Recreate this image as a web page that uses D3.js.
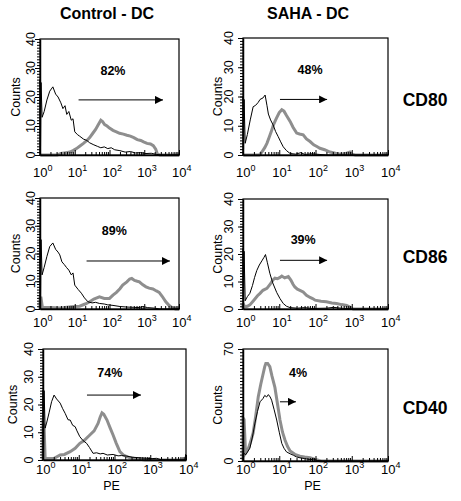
<!DOCTYPE html>
<html>
<head>
<meta charset="utf-8">
<script src="https://cdn.jsdelivr.net/npm/d3@7"></script>
<style>
  html, body { margin: 0; padding: 0; background: #fff; }
  svg { display: block; font-family: "Liberation Sans", Arial, sans-serif; }
</style>
</head>
<body>
<svg id="chart" width="461" height="501"></svg>
<script>
// ---------- DATA ----------
const columnTitles = ["Control - DC", "SAHA - DC"];
const rowMarkers = ["CD80", "CD86", "CD40"];
const percentLabels = ["82%", "48%", "89%", "39%", "74%", "4%"];
const yMaxValues = [40, 40, 40, 40, 40, 70];
const yTickLabelsStd = [0, 10, 20, 30, 40];
const yTickLabelsCD40Saha = [0, 70];
const xTickExponents = [0, 1, 2, 3, 4];
const xAxisTitle = "PE";
const yAxisTitle = "Counts";

// histogram points: [log10(PE), counts]
// black = isotype control, gray = marker stain
const ctrlCD80Iso = [[0,0],[0,26],[0.015,3],[0.03,25],[0.06,13],[0.12,15],[0.2,19],[0.28,22],[0.37,23.5],[0.45,21],[0.52,20],[0.6,18],[0.66,16],[0.72,17],[0.77,14],[0.83,15],[0.9,12],[0.95,12.5],[1.0,8],[1.08,7],[1.14,6.5],[1.25,5.5],[1.35,5],[1.43,4.2],[1.55,3.5],[1.65,3],[1.75,2.5],[1.85,2.8],[1.95,2.2],[2.05,2.5],[2.15,1.8],[2.3,1.5],[2.45,1],[2.6,1.2],[2.75,0.7],[2.9,0.8],[3.05,0.5],[3.2,0.6],[3.35,0.2],[3.5,0],[4,0]];
const ctrlCD80 = [[0,0],[0.5,0],[0.6,0.5],[0.75,0.8],[0.86,1],[0.95,1.5],[1.05,2.2],[1.14,3],[1.25,4],[1.35,5],[1.43,6],[1.52,7.5],[1.6,8.8],[1.68,10.5],[1.75,12],[1.8,11.5],[1.86,10.5],[1.93,10],[2.0,9.3],[2.1,8.5],[2.2,8],[2.29,7.5],[2.4,7.2],[2.5,6.8],[2.6,6.5],[2.7,6],[2.8,5.3],[2.9,5],[2.98,4.5],[3.08,4],[3.18,3.8],[3.26,3.2],[3.33,2],[3.38,0.3],[3.45,0],[4,0]];
const sahaCD80Iso = [[0,0],[0,20],[0.015,2],[0.03,19],[0.06,4],[0.12,7],[0.2,12],[0.28,16.5],[0.35,17],[0.42,18],[0.47,19],[0.55,19.5],[0.61,20.5],[0.66,17],[0.7,14],[0.76,12],[0.83,10.3],[0.9,8],[0.97,6.3],[1.04,4.5],[1.11,2.8],[1.2,1.5],[1.3,0.5],[1.45,0.3],[1.6,0.8],[1.7,0.2],[1.9,0.4],[2.1,0.2],[2.3,0],[4,0]];
const sahaCD80 = [[0,0],[0.45,0],[0.52,1],[0.6,2.5],[0.66,4],[0.72,6],[0.78,8],[0.84,10.3],[0.92,12.5],[1.0,14.5],[1.07,15.5],[1.13,15],[1.2,13.5],[1.3,11.5],[1.38,9.5],[1.48,7.5],[1.56,7.2],[1.66,6.9],[1.75,5.5],[1.85,4.6],[1.95,3.5],[2.05,2.8],[2.12,2.3],[2.25,1.8],[2.4,1],[2.55,0.6],[2.68,0.3],[2.8,0.4],[2.9,0.8],[2.95,1],[3.0,0.3],[3.1,0],[4,0]];
const ctrlCD86Iso = [[0,0],[0,25.5],[0.015,3],[0.03,25],[0.06,12.3],[0.12,15],[0.2,19],[0.28,22.5],[0.37,23.8],[0.45,21.5],[0.52,20.5],[0.57,19.5],[0.63,17],[0.7,16],[0.76,15],[0.83,14],[0.9,12.3],[0.95,13],[1.0,8.6],[1.1,7],[1.19,5.7],[1.28,4],[1.38,2.6],[1.5,2.2],[1.6,2.4],[1.71,2],[1.85,1.8],[1.95,1.5],[2.1,1.3],[2.3,0.9],[2.5,0.7],[2.7,0.6],[2.86,0.5],[2.95,0.9],[3.1,0.5],[3.3,0.3],[3.45,0],[4,0]];
const ctrlCD86 = [[0,0],[0,4],[0.03,4],[0.07,0.5],[0.3,0.5],[0.6,0.4],[0.9,0.8],[1.14,1],[1.3,1.8],[1.43,2.6],[1.55,3.6],[1.71,4.4],[1.85,3.8],[2.0,3.8],[2.1,5],[2.2,6],[2.3,7.3],[2.38,8.6],[2.5,9.8],[2.58,10.8],[2.64,11],[2.72,10.3],[2.8,10],[2.86,9.8],[2.95,8.8],[3.05,8],[3.14,7.5],[3.25,7.2],[3.35,6.5],[3.43,6],[3.52,4.5],[3.62,2.6],[3.7,1.5],[3.8,0.5],[3.9,0],[4,0]];
const sahaCD86Iso = [[0,0],[0,22],[0.015,2],[0.03,21],[0.06,3],[0.12,4.5],[0.19,5.7],[0.26,8.5],[0.32,11.5],[0.38,14],[0.45,16],[0.52,17.5],[0.58,18.8],[0.62,19.8],[0.67,17],[0.74,13],[0.82,9.5],[0.93,6],[1.02,3.8],[1.11,2],[1.2,1],[1.3,0.5],[1.5,0.3],[1.7,0.5],[1.9,0.2],[2.3,0.3],[2.5,0.6],[2.7,0.3],[2.9,0.2],[3.0,0],[4,0]];
const sahaCD86 = [[0,0],[0,2],[0.05,0.8],[0.12,1],[0.19,1.5],[0.3,3.2],[0.4,4.8],[0.47,5.7],[0.55,6.8],[0.66,7.5],[0.75,9],[0.82,10.5],[0.88,11.2],[0.95,11],[1.02,11.5],[1.07,12],[1.15,11.3],[1.25,11.8],[1.32,10.5],[1.38,9],[1.43,8],[1.5,7.2],[1.57,6.8],[1.66,6.2],[1.75,5],[1.85,4.2],[1.92,3.8],[1.99,3.2],[2.15,2.8],[2.3,2.6],[2.45,2.2],[2.58,2],[2.72,1.6],[2.86,1.3],[2.95,0.7],[3.04,0],[4,0]];
const ctrlCD40Iso = [[0,0],[0,25.2],[0.015,3],[0.03,25],[0.06,11.5],[0.1,13.3],[0.17,17],[0.24,21],[0.31,23.4],[0.38,22],[0.48,20.5],[0.55,18.5],[0.62,16.8],[0.7,14.5],[0.76,14.4],[0.83,12.5],[0.9,12],[0.95,10.5],[1.03,8.4],[1.12,7],[1.22,6],[1.3,4.5],[1.4,2.4],[1.5,2.6],[1.6,2.2],[1.68,2.4],[1.8,1.8],[1.96,2],[2.1,1.5],[2.2,1.6],[2.34,1.4],[2.5,1],[2.71,0.8],[2.9,0.6],[3.05,0.5],[3.18,0.6],[3.3,0.1],[3.97,0],[3.99,2],[4,0]];
const ctrlCD40 = [[0,0],[0,13],[0.03,12.5],[0.06,0.5],[0.3,0.5],[0.48,1.8],[0.6,2],[0.76,3],[0.9,4.2],[1.03,6],[1.15,7],[1.31,9],[1.43,10.5],[1.54,13.2],[1.6,15.5],[1.65,17],[1.7,16.5],[1.79,14.4],[1.88,11.5],[1.96,9],[2.05,6],[2.15,3],[2.25,1.8],[2.43,0.8],[2.6,0.5],[2.71,0.3],[2.85,0],[4,0]];
const sahaCD40Iso = [[0,0],[0,5],[0.08,4],[0.19,8],[0.26,15],[0.33,23.7],[0.4,31],[0.47,37],[0.55,39],[0.6,41],[0.65,40],[0.7,41.5],[0.75,40],[0.79,38],[0.86,32],[0.93,25.6],[1.0,18],[1.07,11],[1.13,8],[1.2,5.7],[1.3,4.5],[1.39,3.6],[1.47,2.6],[1.57,2],[1.7,1.5],[1.85,0.8],[1.95,1.2],[2.05,0.3],[2.2,0],[4,0]];
const sahaCD40 = [[0,0],[0,27],[0.03,26],[0.07,5],[0.15,8],[0.21,12],[0.28,17.5],[0.35,28],[0.42,40],[0.49,48],[0.56,55],[0.6,59],[0.63,61],[0.68,61],[0.74,59],[0.8,53],[0.88,46],[0.95,36],[1.02,25.6],[1.09,18],[1.16,13],[1.23,9],[1.3,6.3],[1.43,4.2],[1.57,3],[1.7,2.5],[1.85,2],[2.0,1],[2.1,0.3],[2.15,0],[4,0]];

// gate arrows: [log10 start, log10 end, counts level]
const gateArrows = [[1.11,3.54,19],[1.02,2.32,19],[1.34,3.74,17.3],[1.02,2.32,17.7],[1.23,2.74,23.4],[1.02,1.46,37]];
// percentage label anchors: [log10 PE, counts]
const percentAnchors = [[2.1,27.6],[1.85,27.6],[2.14,26.7],[1.66,23.7],[1.87,30],[1.52,52.7]];

const isoSeries = [ctrlCD80Iso, sahaCD80Iso, ctrlCD86Iso, sahaCD86Iso, ctrlCD40Iso, sahaCD40Iso];
const stainSeries = [ctrlCD80, sahaCD80, ctrlCD86, sahaCD86, ctrlCD40, sahaCD40];
const yTickLabelSets = [yTickLabelsStd, yTickLabelsStd, yTickLabelsStd, yTickLabelsStd, yTickLabelsStd, yTickLabelsCD40Saha];

// ---------- LAYOUT ----------
const layout = [
  {x0:40,  x1:179, y0:39,  y1:155, tickBase:177, lblX:35,  titleX:20},
  {x0:243, x1:388, y0:38,  y1:155, tickBase:177, lblX:233, titleX:222},
  {x0:40,  x1:179, y0:198, y1:309, tickBase:327, lblX:35,  titleX:20},
  {x0:243, x1:388, y0:199, y1:309, tickBase:327, lblX:233, titleX:222},
  {x0:43,  x1:186, y0:349, y1:460, tickBase:474, lblX:33,  titleX:17},
  {x0:243, x1:388, y0:349, y1:461, tickBase:474, lblX:233, titleX:222}
];
const grayColor = "#8e8e8e";

const svg = d3.select("#chart");

// Column titles
const colTitleX = [107, 308];
columnTitles.forEach((t, i) => {
  svg.append("text").attr("x", colTitleX[i]).attr("y", 18.5)
    .attr("text-anchor", "middle").attr("font-weight", "bold").attr("font-size", 16)
    .text(t);
});
// Row markers
const rowBase = [106, 263, 414];
rowMarkers.forEach((t, i) => {
  svg.append("text").attr("x", 425).attr("y", rowBase[i])
    .attr("text-anchor", "middle").attr("font-weight", "bold").attr("font-size", 17.5)
    .text(t);
});

const defs = svg.append("defs");
defs.append("marker").attr("id", "arrowhead")
  .attr("viewBox", "0 0 10 10").attr("refX", 10).attr("refY", 5)
  .attr("markerWidth", 8).attr("markerHeight", 8).attr("markerUnits", "userSpaceOnUse")
  .attr("orient", "auto")
  .append("path").attr("d", "M0,0 L10,5 L0,10 Z").attr("fill", "#000");

layout.forEach((L, i) => {
  const g = svg.append("g");
  const x = d3.scaleLog().domain([1, 1e4]).range([L.x0, L.x1]);
  const ymax = yMaxValues[i];
  const y = d3.scaleLinear().domain([0, ymax]).range([L.y1, L.y0]);
  const px = v => x(Math.pow(10, v));

  // Histograms
  const line = d3.line().x(d => px(d[0])).y(d => y(d[1]));
  g.append("path").datum(stainSeries[i]).attr("d", line)
    .attr("fill", "none").attr("stroke", grayColor).attr("stroke-width", 3)
    .attr("stroke-linejoin", "miter");
  g.append("path").datum(isoSeries[i]).attr("d", line)
    .attr("fill", "none").attr("stroke", "#000").attr("stroke-width", 1);

  // Frame
  g.append("rect").attr("x", L.x0).attr("y", L.y0)
    .attr("width", L.x1 - L.x0).attr("height", L.y1 - L.y0)
    .attr("fill", "none").attr("stroke", "#000").attr("stroke-width", 1.2);

  // X axis ticks (inward)
  const minorX = [];
  for (let d = 0; d < 4; d++) for (let m = 2; m <= 9; m++) minorX.push(m * Math.pow(10, d));
  const majorX = xTickExponents.map(e => Math.pow(10, e));
  g.append("g").attr("transform", `translate(0,${L.y1})`)
    .call(d3.axisBottom(x).tickValues(minorX).tickSize(-3).tickFormat(""))
    .call(a => a.select(".domain").remove());
  g.append("g").attr("transform", `translate(0,${L.y1})`)
    .call(d3.axisBottom(x).tickValues(majorX).tickSizeInner(-5).tickSizeOuter(0).tickFormat(""))
    .call(a => a.select(".domain").attr("stroke-width", 1.5));

  // X tick labels 10^n
  xTickExponents.forEach(e => {
    const t = g.append("text").attr("x", x(Math.pow(10, e)) - 7).attr("y", L.tickBase)
      .attr("font-size", 13);
    t.append("tspan").text("10");
    t.append("tspan").attr("font-size", 9).attr("dy", -6).text(e);
  });

  // Y axis ticks (outward)
  const step = ymax > 40 ? 2 : 1;
  const minorY = d3.range(0, ymax + 0.001, step);
  g.append("g").attr("transform", `translate(${L.x0},0)`)
    .call(d3.axisLeft(y).tickValues(minorY).tickSize(3).tickFormat(""))
    .call(a => a.select(".domain").remove());
  const yLbls = yTickLabelSets[i];
  g.append("g").attr("transform", `translate(${L.x0},0)`)
    .call(d3.axisLeft(y).tickValues(yLbls).tickSizeInner(5).tickSizeOuter(0).tickFormat(""))
    .call(a => a.select(".domain").attr("stroke-width", 1.5));
  yLbls.forEach(v => {
    g.append("text")
      .attr("transform", `translate(${L.lblX},${y(v)}) rotate(-90)`)
      .attr("text-anchor", "middle").attr("font-size", 12.5).text(v);
  });
  // Y title
  g.append("text")
    .attr("transform", `translate(${L.titleX},${(L.y0 + L.y1) / 2}) rotate(-90)`)
    .attr("text-anchor", "middle").attr("font-size", 12.5).text(yAxisTitle);

  // X title (bottom row only)
  if (i >= 4) {
    g.append("text").attr("x", (L.x0 + L.x1) / 2 - 3).attr("y", 490)
      .attr("text-anchor", "middle").attr("font-size", 12.5).text(xAxisTitle);
  }

  // Gate arrow
  const a = gateArrows[i];
  g.append("line").attr("x1", px(a[0])).attr("x2", px(a[1]))
    .attr("y1", y(a[2])).attr("y2", y(a[2]))
    .attr("stroke", "#000").attr("stroke-width", 1)
    .attr("marker-end", "url(#arrowhead)");

  // Percentage label
  const p = percentAnchors[i];
  g.append("text").attr("x", px(p[0])).attr("y", y(p[1]))
    .attr("text-anchor", "middle").attr("font-weight", "bold").attr("font-size", 12.5)
    .text(percentLabels[i]);
});
</script>
</body>
</html>
